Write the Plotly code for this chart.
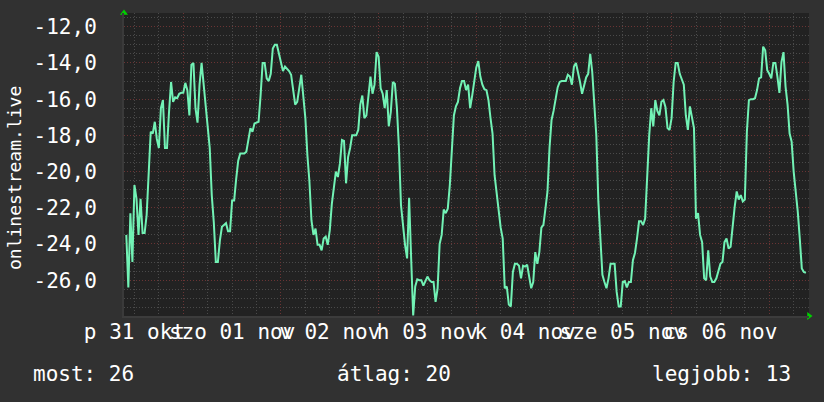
import pandas as pd
import plotly.graph_objects as go

# ---- data (30-minute samples) ----
start_time = "2025-10-31 10:00"
step = "30min"
values = [
    # Oct 31 10:00 ->
    -23.5, -26.4, -22.3, -25.0, -20.75, -21.5, -23.5, -21.5, -23.4, -23.4,
    -22.4, -19.8, -17.8, -17.9, -17.25, -18.2, -18.7, -16.5, -16.05, -18.7,
    -18.7, -16.7, -15.05, -16.15, -15.9, -15.95, -15.7, -15.65,
    # Nov 1
    -15.65, -15.1, -15.5, -16.9, -14.1, -14.0, -16.5, -17.3, -15.2, -14.0,
    -15.2, -16.3, -17.35, -18.7, -21.3, -22.8, -25.0, -25.0, -23.8, -23.05,
    -22.95, -22.85, -23.3, -23.3, -21.6, -21.6, -20.4, -19.4, -19.0, -19.0,
    -19.0, -18.9, -18.2, -17.6, -17.8, -17.35, -17.3, -17.25, -15.8, -14.0,
    -14.0, -14.85, -15.0, -14.6, -13.2, -13.0, -13.0, -13.5,
    # Nov 2
    -14.0, -14.45, -14.2, -14.3, -14.45, -14.65, -15.5, -16.3, -16.15, -15.4,
    -14.65, -15.85, -17.05, -19.1, -20.55, -22.7, -23.5, -23.15, -24.05, -24.05,
    -24.35, -23.7, -23.6, -24.05, -23.25, -21.8, -20.75, -20.0, -20.3, -19.55,
    -18.25, -18.3, -20.65, -19.2, -18.7, -18.0, -18.0, -18.0, -17.7, -16.3,
    -15.8, -17.05, -16.9, -15.7, -14.75, -15.7, -15.2, -13.4,
    # Nov 3
    -13.65, -15.4, -15.7, -16.5, -15.5, -17.5, -16.7, -15.05, -15.15, -16.5,
    -18.7, -21.85, -23.05, -24.05, -24.8, -21.45, -24.8, -27.95, -26.35, -25.95,
    -26.0, -26.0, -26.3, -26.0, -25.8, -26.0, -26.1, -26.1, -27.2, -26.45,
    -24.0, -23.5, -22.1, -22.3, -22.05, -20.75, -19.1, -16.9, -16.4, -16.15,
    -15.4, -15.0, -15.0, -15.5, -15.2, -16.5, -15.8, -15.1,
    # Nov 4
    -14.25, -13.9, -14.75, -15.2, -15.45, -15.5, -16.05, -17.05, -17.9, -20.2,
    -21.3, -22.4, -23.1, -23.7, -26.45, -26.35, -27.35, -27.45, -25.55, -25.1,
    -25.1, -25.2, -25.9, -25.2, -25.25, -25.15, -25.8, -26.45, -26.1, -24.45,
    -25.1, -24.45, -23.1, -22.95, -22.05, -21.1, -18.7, -17.15, -16.65, -16.05,
    -15.35, -15.05, -15.0, -15.0, -15.0, -14.65, -14.75, -15.2,
    # Nov 5
    -14.2, -14.0, -14.5, -15.05, -15.7, -15.15, -14.8, -14.6, -13.5, -14.5,
    -16.15, -18.0, -21.65, -23.7, -25.7, -26.1, -26.45, -25.9, -25.1, -25.1,
    -25.1, -26.65, -27.45, -27.45, -26.1, -26.05, -26.4, -26.1, -26.1, -24.9,
    -24.5, -23.7, -22.75, -22.75, -22.95, -22.6, -20.2, -18.0, -16.5, -17.5,
    -16.05, -16.65, -16.9, -16.15, -16.05, -16.45, -17.6, -17.7,
    # Nov 6
    -17.05, -15.05, -14.0, -14.0, -14.6, -14.95, -15.2, -16.9, -17.7, -16.4,
    -16.95, -17.6, -22.6, -22.3, -23.5, -23.9, -25.9, -26.0, -24.35, -25.8,
    -26.1, -26.1, -25.9, -25.55, -25.1, -25.0, -23.9, -23.7, -24.25, -24.15,
    -22.95, -21.95, -21.1, -21.55, -21.3, -21.65, -21.55, -17.8, -16.05, -16.0,
    -16.0, -15.95, -15.5, -14.85, -14.8, -13.1, -13.3, -14.4,
    # Nov 7
    -14.6, -14.85, -14.0, -14.0, -14.75, -15.65, -13.95, -13.4, -15.3, -16.3,
    -17.9, -18.35, -20.0, -21.0, -22.2, -23.7, -25.35, -25.55, -25.6,
]

day_ticks = ["2025-10-31", "2025-11-01", "2025-11-02", "2025-11-03",
             "2025-11-04", "2025-11-05", "2025-11-06", "2025-11-07"]
day_labels_at = ["2025-10-31 12:00", "2025-11-01 12:00", "2025-11-02 12:00",
                 "2025-11-03 12:00", "2025-11-04 12:00", "2025-11-05 12:00",
                 "2025-11-06 12:00"]
day_labels = ["p 31 okt", "szo 01 nov", "v 02 nov", "h 03 nov",
              "k 04 nov", "sze 05 nov", "cs 06 nov"]
y_ticks = [-26, -24, -22, -20, -18, -16, -14, -12]
y_labels = ["-26,0", "-24,0", "-22,0", "-20,0", "-18,0", "-16,0", "-14,0", "-12,0"]
legend_labels = ["most: 26", "átlag: 20", "legjobb: 13"]
series_name = "onlinestream.live"

x_range = ["2025-10-31 09:26", "2025-11-07 09:46"]
y_range = [-27.98, -11.24]

times = pd.date_range(start_time, periods=len(values), freq=step)

FONT = "DejaVu Sans Mono"
PAPER = "#313131"
PLOT = "#222222"
LINE = "#72f2b5"
MINOR = "#4a4a4a"
MAJOR = "#6a3434"

fig = go.Figure()
fig.add_trace(go.Scatter(x=times, y=values, mode="lines",
                         line=dict(color=LINE, width=2), name=series_name,
                         hoverinfo="skip"))

# axis arrows (decoration)
fig.add_trace(go.Scatter(x=[x_range[0]], y=[y_range[1]], mode="markers",
                         marker=dict(symbol="triangle-up", size=7, color="#00d000"),
                         cliponaxis=False, hoverinfo="skip"))
fig.add_trace(go.Scatter(x=[x_range[1]], y=[y_range[0]], mode="markers",
                         marker=dict(symbol="triangle-right", size=7, color="#00d000"),
                         cliponaxis=False, hoverinfo="skip", xaxis="x2"))

fig.update_layout(
    width=824, height=402,
    margin=dict(l=124, r=15, t=13, b=86),
    paper_bgcolor=PAPER, plot_bgcolor=PLOT,
    showlegend=False,
    hovermode=False,
    font=dict(family=FONT, color="#ffffff", size=21),
    xaxis=dict(
        type="date", range=x_range, tickmode="array", tickvals=day_ticks,
        showticklabels=False, ticks="",
        showgrid=True, gridcolor=MAJOR, griddash="1px,2px", gridwidth=1,
        minor=dict(tick0="2025-10-31 00:00", dtick=6 * 3600 * 1000,
                   showgrid=True, gridcolor=MINOR, griddash="1px,2px", gridwidth=1),
        zeroline=False, showline=True, linecolor="#3c3c3c", linewidth=2,
        fixedrange=True,
    ),
    xaxis2=dict(
        type="date", range=x_range, overlaying="x", side="bottom",
        tickmode="array", tickvals=day_labels_at, ticktext=day_labels,
        tickangle=0, ticks="", showgrid=False, zeroline=False,
        tickfont=dict(family=FONT, size=21, color="#ffffff"),
        ticklabelstandoff=1,
    ),
    yaxis=dict(
        range=y_range, tickmode="array", tickvals=y_ticks, ticktext=y_labels,
        ticks="", ticklabelstandoff=21,
        tickfont=dict(family=FONT, size=21, color="#ffffff"),
        showgrid=True, gridcolor=MAJOR, griddash="1px,2px", gridwidth=1,
        minor=dict(tick0=-12, dtick=0.5, showgrid=True, gridcolor=MINOR,
                   griddash="1px,2px", gridwidth=1),
        zeroline=False, showline=True, linecolor="#3a3a3a", linewidth=2,
    ),
)

W = 685.0
H = 303.0
def px(x):
    return (x - 124) / W
def py(y):
    return (316 - y) / H

fig.add_annotation(text=series_name, textangle=-90, xref="paper", yref="paper",
                   x=px(14), y=py(178), xanchor="center", yanchor="middle",
                   showarrow=False,
                   font=dict(family=FONT, size=18, color="#ffffff"))
fig.add_annotation(text=legend_labels[0], xref="paper", yref="paper",
                   x=px(31), y=py(374), xanchor="left", yanchor="middle",
                   showarrow=False, font=dict(family=FONT, size=21, color="#ffffff"))
fig.add_annotation(text=legend_labels[1], xref="paper", yref="paper",
                   x=px(335), y=py(374), xanchor="left", yanchor="middle",
                   showarrow=False, font=dict(family=FONT, size=21, color="#ffffff"))
fig.add_annotation(text=legend_labels[2], xref="paper", yref="paper",
                   x=px(793), y=py(374), xanchor="right", yanchor="middle",
                   showarrow=False, font=dict(family=FONT, size=21, color="#ffffff"))

fig.write_html("out.html", config={"displayModeBar": False, "staticPlot": True},
               post_script="document.body.style.margin='0';document.body.style.padding='0';")
